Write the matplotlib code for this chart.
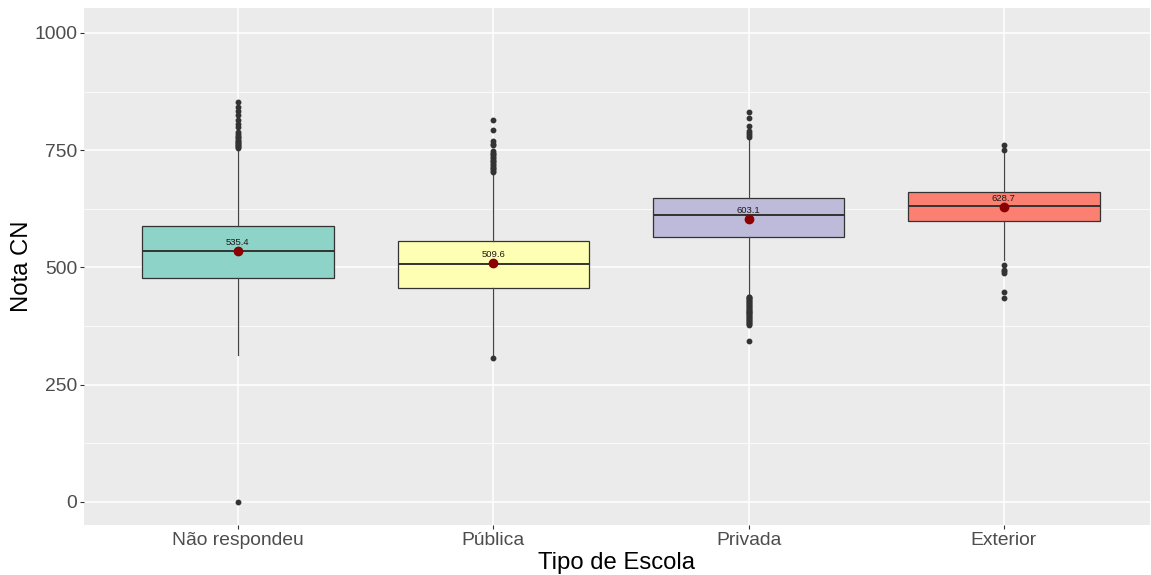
import numpy as np
import matplotlib.pyplot as plt
from matplotlib.ticker import MultipleLocator

plt.rcParams['font.family'] = ['Liberation Sans', 'DejaVu Sans']

# categorias e estatisticas das notas
escolas = ["Não respondeu", "Pública", "Privada", "Exterior"]
cores = ["#8DD3C7", "#FFFFB3", "#BEBADA", "#FB8072"]

q1 = [478, 457, 564, 600]
mediana = [536, 507, 611, 631]
q3 = [589, 556, 647, 660]
bigode_inf = [313, 309, 439, 516]
bigode_sup = [753, 702, 777, 747]
media = [535.4, 509.6, 603.1, 628.7]

outliers_nao_resp = [0, 755, 757, 759, 761, 763, 765, 767, 769, 772, 775, 778,
                     781, 784, 788, 800, 806, 815, 826, 833, 843, 853]
outliers_publica = [306, 703, 706, 709, 712, 715, 718, 721, 724, 727, 730, 733,
                    736, 739, 742, 745, 749, 760, 764, 769, 793, 814]
outliers_privada = [344, 378, 380, 382, 384, 386, 388, 390, 392, 394, 396, 398,
                    400, 402, 404, 406, 408, 410, 412, 414, 416, 418, 420, 422,
                    424, 426, 428, 430, 432, 434, 436, 437,
                    779, 782, 786, 790, 801, 818, 832]
outliers_exterior = [434, 447, 489, 492, 495, 506, 750, 761]
outliers = [outliers_nao_resp, outliers_publica, outliers_privada, outliers_exterior]

stats = []
for i, nome in enumerate(escolas):
    stats.append({
        "label": nome,
        "q1": q1[i], "med": mediana[i], "q3": q3[i],
        "whislo": bigode_inf[i], "whishi": bigode_sup[i],
        "mean": media[i], "fliers": outliers[i],
    })

fig, ax = plt.subplots(figsize=(11.51, 5.75), dpi=100)
fig.subplots_adjust(left=0.073, right=0.999, top=0.986, bottom=0.087)
ax.set_facecolor('#EBEBEB')

pos = np.arange(1, len(escolas) + 1)
bp = ax.bxp(stats, positions=pos, widths=0.75, patch_artist=True, showcaps=False,
            showmeans=False, zorder=3,
            boxprops=dict(edgecolor='#333333', linewidth=0.9),
            medianprops=dict(color='#333333', linewidth=1.4),
            whiskerprops=dict(color='#444444', linewidth=0.9),
            flierprops=dict(marker='o', markersize=3.2, markerfacecolor='#333333',
                            markeredgecolor='#333333', linestyle='none'))
for caixa, cor in zip(bp['boxes'], cores):
    caixa.set_facecolor(cor)

# media de cada grupo com o valor escrito
ax.plot(pos, media, 'o', color='#8B0000', markersize=6, zorder=5)
for x, m in zip(pos, media):
    ax.annotate(f'{m:.1f}', (x, m), xytext=(0, 3), textcoords='offset points',
                ha='center', va='bottom', fontsize=6.8, color='#1A1A1A', zorder=6)

# grade no estilo ggplot
ax.set_ylim(-49, 1053)
ax.set_xlim(0.397, 4.572)
ax.yaxis.set_major_locator(MultipleLocator(250))
ax.yaxis.set_minor_locator(MultipleLocator(125))
ax.grid(True, which='major', color='white', linewidth=1.1, zorder=0)
ax.grid(True, which='minor', axis='y', color='white', linewidth=0.55, zorder=0)
ax.set_axisbelow(True)
for s in ax.spines.values():
    s.set_visible(False)

ax.set_xticks(pos)
ax.set_xticklabels(escolas)
ax.tick_params(axis='both', which='major', colors='#333333', labelcolor='#4D4D4D',
               labelsize=13.9, length=3, width=0.8, pad=2)
ax.tick_params(axis='y', which='minor', length=0)

ax.set_xlabel("Tipo de Escola", fontsize=17.2, color='black', labelpad=2)
ax.set_ylabel("Nota CN", fontsize=17.2, color='black')
ax.yaxis.set_label_coords(-0.048, 0.5)

fig.savefig("out.png", dpi=100)
